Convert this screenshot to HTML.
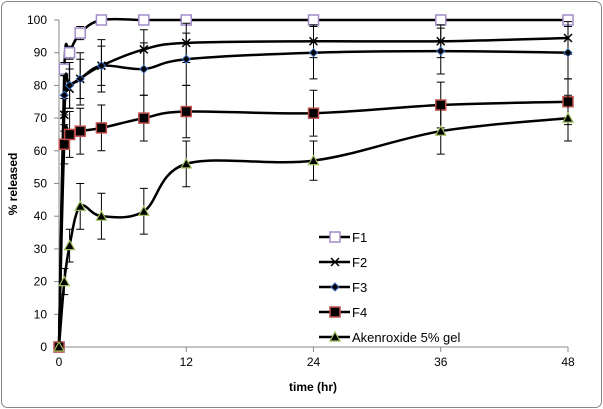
<!DOCTYPE html>
<html><head><meta charset="utf-8"><style>
body{margin:0;background:#fff;}
svg{display:block;font-family:"Liberation Sans",sans-serif;}
</style></head><body>
<svg id="c" width="603" height="409">
<rect x="1.5" y="1.5" width="600" height="406" rx="6" fill="#fff" stroke="#888"/>
<g id="g"></g>
</svg>
<script>
const times=[0,0.5,1,2,4,8,12,24,36,48];
const xTicks=[0,12,24,36,48];
const yTicks=[0,10,20,30,40,50,60,70,80,90,100];
const seriesNames=["F1","F2","F3","F4","Akenroxide 5% gel"];
const f1=[0,85,90,96,100,100,100,100,100,100];
const f2=[0,71,79,82,86,91,93,93.5,93.5,94.5];
const f3=[0,77,80,82,86,85,88,90,90.5,90];
const f4=[0,62,65,66,67,70,72,71.5,74,75];
const ak=[0,20,31,43,40,41.5,56,57,66,70];
const f1Err=[0,2,2,2,0,0,0,0,0,0];
const f2Err=[0,5,6,6,6,6,6,5,5,5];
const f3Err=[0,6,7,8,8,8,8,8,7,8];
const f4Err=[0,6,7,7,7,7,8,7,7,7];
const akErr=[0,4,5,7,7,7,7,6,7,7];
const X=v=>59+v*(568-59)/48, Y=v=>347-v*(347-20)/100;
const NS="http://www.w3.org/2000/svg", g=document.getElementById('g');
function mk(t,a,p){const e=document.createElementNS(NS,t);for(const k in a)e.setAttribute(k,a[k]);(p||g).appendChild(e);return e;}
let e;
e=mk('line',{x1:59,y1:20,x2:59,y2:347,stroke:'#888'});


e=mk('line',{x1:59,y1:347,x2:568,y2:347,stroke:'#888'});


yTicks.forEach(v=>{mk('line',{x1:54,x2:59,y1:Y(v),y2:Y(v),stroke:'#888'});
 e=mk('text',{x:47,y:Y(v)+4,'text-anchor':'end','font-size':12,fill:'#000'});e.textContent=v;
 
 });
xTicks.forEach(v=>{mk('line',{x1:X(v),x2:X(v),y1:347,y2:352,stroke:'#888'});
 e=mk('text',{x:X(v),y:366,'text-anchor':'middle','font-size':12,fill:'#000'});e.textContent=v;
 
 });
e=mk('text',{x:313,y:391,'text-anchor':'middle','font-size':12,'font-weight':'bold'});e.textContent='time (hr)';


e=mk('text',{x:0,y:0,transform:'translate(17,184) rotate(-90)','text-anchor':'middle','font-size':12,'font-weight':'bold'});e.textContent='% released';


function path(vals){const p=times.map((t,i)=>[X(t),Y(vals[i])]);let d=`M${p[0][0]},${p[0][1]}`;
 for(let i=0;i<p.length-1;i++){const p0=p[Math.max(i-1,0)],p1=p[i],p2=p[i+1],p3=p[Math.min(i+2,p.length-1)];
 const k=6;d+=` C${p1[0]+(p2[0]-p0[0])/k},${p1[1]+(p2[1]-p0[1])/k} ${p2[0]-(p3[0]-p1[0])/k},${p2[1]-(p3[1]-p1[1])/k} ${p2[0]},${p2[1]}`;}return d;}
function marker(type,x,y,parent){
 if(type==0)mk('rect',{x:x-5,y:y-5,width:10,height:10,fill:'#fff',stroke:'#a08cc8','stroke-width':1.5},parent);
 else if(type==1){mk('path',{d:`M${x-4},${y-4}L${x+4},${y+4}M${x-4},${y+4}L${x+4},${y-4}`,stroke:'#000','stroke-width':1.5},parent);}
 else if(type==2)mk('path',{d:`M${x},${y-4}L${x+4},${y}L${x},${y+4}L${x-4},${y}Z`,fill:'#000',stroke:'#3a6cc0'},parent);
 else if(type==3)mk('rect',{x:x-5,y:y-5,width:10,height:10,fill:'#000',stroke:'#c0504d','stroke-width':1.5},parent);
 else mk('path',{d:`M${x},${y-5}L${x+5},${y+4}L${x-5},${y+4}Z`,fill:'#000',stroke:'#9bbb59','stroke-width':1.2},parent);}
const all=[f1,f2,f3,f4,ak], errs=[f1Err,f2Err,f3Err,f4Err,akErr];
all.forEach((vals,s)=>{
 const sg=mk('g',{});
 
 
 times.forEach((t,i)=>{const er=errs[s][i];if(!er)return;const x=X(t);
  mk('path',{d:`M${x},${Y(vals[i]+er)}V${Y(vals[i]-er)}M${x-4},${Y(vals[i]+er)}h8M${x-4},${Y(vals[i]-er)}h8`,stroke:'#000','stroke-width':1,fill:'none'},sg);});
 mk('path',{d:path(vals),fill:'none',stroke:'#000','stroke-width':2.5},sg);
 times.forEach((t,i)=>marker(s,X(t),Y(vals[i]),sg));
});
const ly=[237,262,287,312,337];
seriesNames.forEach((n,s)=>{const lg=mk('g',{});
 
 
 mk('line',{x1:319,x2:350,y1:ly[s],y2:ly[s],stroke:'#000','stroke-width':2.5},lg);
 marker(s,335,ly[s],lg);
 const t=mk('text',{x:352,y:ly[s]+5,'font-size':13},lg);t.textContent=n;});
</script>
</body></html>
